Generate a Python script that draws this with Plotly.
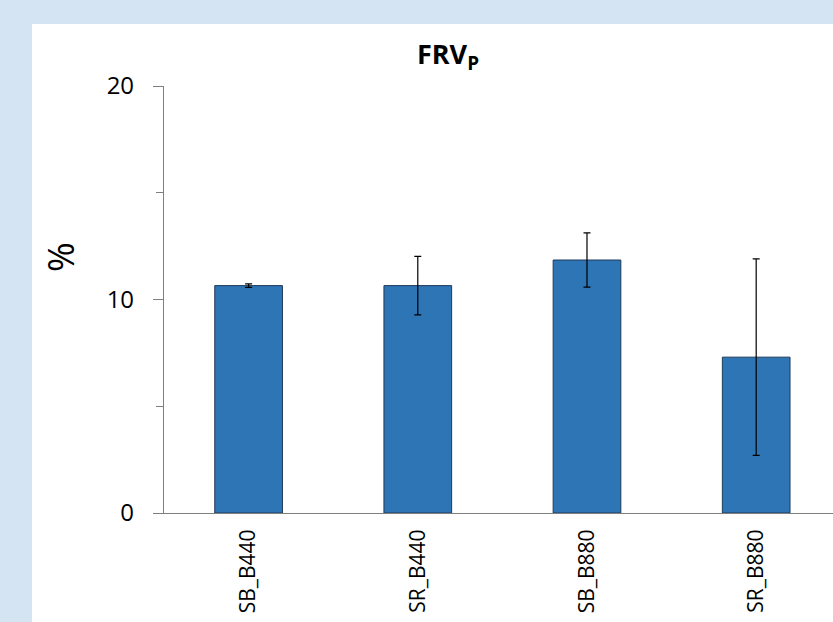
import plotly.graph_objects as go

categories = ["SB_B440", "SR_B440", "SB_B880", "SR_B880"]
values = [10.65, 10.65, 11.85, 7.3]
errors = [0.08, 1.37, 1.27, 4.6]
y_ticks = [0, 10, 20]

W, H = 833, 622
L, R, T, B = 164, 0, 86, 109
PW, PH = W - L - R, H - T - B
FONT = "Open Sans, Lato, sans-serif"

fig = go.Figure()
fig.add_trace(go.Bar(
    x=categories, y=values,
    width=0.4,
    marker=dict(color="#2E75B6", line=dict(color="#1F3A5A", width=1)),
    error_y=dict(type="data", array=errors, visible=True, color="#000000",
                 thickness=1.2, width=3.5),
))

fig.update_layout(
    width=W, height=H,
    margin=dict(l=L, r=R, t=T, b=B, pad=0),
    paper_bgcolor="#D5E4F3",
    plot_bgcolor="#FFFFFF",
    showlegend=False,
    font=dict(family=FONT, color="#000000"),
    title=dict(text="<b>FRV<sub>P</sub></b>", x=448 / W, xanchor="center",
               y=1 - 55 / H, yanchor="middle", xref="container", yref="container",
               font=dict(size=27, family=FONT, color="#000000")),
    shapes=[dict(type="rect", xref="paper", yref="paper", layer="below",
                 x0=(32 - L) / PW, x1=1.05,
                 y0=-B / PH, y1=1 + (T - 24) / PH,
                 fillcolor="#FFFFFF", line=dict(width=0))],
    annotations=[dict(text="%", xref="paper", yref="paper",
                      x=(60 - L) / PW, y=(513 - 257) / PH,
                      textangle=-90, showarrow=False, xanchor="center", yanchor="middle",
                      font=dict(size=36, family=FONT, color="#000000"))],
)

fig.update_xaxes(
    range=[-0.5, 3.454],
    showline=True, linecolor="#7F7F7F", linewidth=1.2,
    ticks="", tickangle=-90, ticklabelstandoff=7,
    tickfont=dict(size=21, family=FONT, color="#000000"),
    showgrid=False, zeroline=False,
)
fig.update_yaxes(
    range=[0, 20],
    tickvals=y_ticks,
    showline=True, linecolor="#7F7F7F", linewidth=1.2,
    ticks="outside", ticklen=10, tickcolor="#7F7F7F", tickwidth=1.2,
    ticklabelstandoff=14,
    minor=dict(ticks="outside", ticklen=7, dtick=5, tickcolor="#7F7F7F", tickwidth=1.2, showgrid=False),
    tickfont=dict(size=24, family=FONT, color="#000000"),
    showgrid=False, zeroline=False,
)

fig.write_html(
    "out.html",
    config={"displayModeBar": False},
    post_script="document.body.style.margin='0';document.body.style.overflow='hidden';",
)
